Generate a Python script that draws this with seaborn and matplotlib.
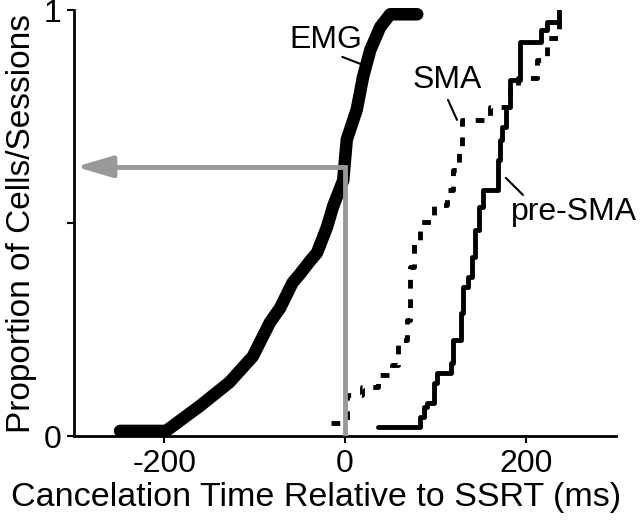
# recreate cancelation time cumulative distributions
import numpy as np
import pandas as pd
import matplotlib
matplotlib.use("Agg")
import matplotlib.pyplot as plt
import seaborn as sns

# EMG cumulative curve (ms, proportion)
emg_x = [-249, -198, -161, -128, -102, -83, -72, -58, -50, -39, -31, -20, -13, -2, 2, 13, 20, 28, 39, 50, 80]
emg_y = [0.012, 0.012, 0.07, 0.126, 0.187, 0.267, 0.30, 0.36, 0.38, 0.41, 0.43, 0.49, 0.54, 0.60, 0.696, 0.766, 0.843, 0.906, 0.96, 0.99, 0.99]

# SMA steps (x where the level starts, level)
sma_x = [-16, 2, 19, 37, 52, 59, 69, 72, 76, 83, 98, 113, 120, 126, 130, 161, 183, 191, 213, 224, 237]
sma_y = [0.03, 0.096, 0.115, 0.143, 0.167, 0.225, 0.272, 0.397, 0.453, 0.502, 0.542, 0.577, 0.624, 0.678,
         0.742, 0.772, 0.82, 0.84, 0.883, 0.935, 0.99]

# pre-SMA steps
presma_x = [37, 83, 87, 91, 98, 102, 117, 120, 128, 131, 136, 141, 144, 148, 153, 169, 172, 174, 178, 183,
            194, 217, 224, 237]
presma_y = [0.021, 0.045, 0.068, 0.077, 0.124, 0.148, 0.171, 0.225, 0.289, 0.35, 0.374, 0.42, 0.484, 0.538,
            0.577, 0.648, 0.695, 0.725, 0.772, 0.836, 0.925, 0.953, 0.972, 1.0]

# SSRT marker and EMG proportion at SSRT
ssrt = 0
emg_at_ssrt = 0.632

sns.set_theme(style="ticks")
plt.rcParams["font.family"] = ["Liberation Sans", "DejaVu Sans"]
plt.rcParams["text.color"] = "black"
plt.rcParams["axes.labelcolor"] = "black"

fig = plt.figure(figsize=(6.4, 5.21), dpi=100)
ax = fig.add_axes([0.1156, 0.1631, 0.8469, 0.8177])

gray = "#999999"

# EMG thick curve
sns.lineplot(x=emg_x, y=emg_y, sort=False, estimator=None, color="black", linewidth=9,
             solid_capstyle="round", solid_joinstyle="round", clip_on=False, ax=ax)

# SMA dashed steps
sns.lineplot(x=sma_x, y=sma_y, sort=False, estimator=None, color="black", linewidth=3.5,
             drawstyle="steps-post", linestyle=(0, (1.8, 2.2)), ax=ax)

# pre-SMA solid steps
sns.lineplot(x=presma_x, y=presma_y, sort=False, estimator=None, color="black", linewidth=3.5,
             drawstyle="steps-post", ax=ax)

# gray arrow from SSRT
ax.plot([ssrt, ssrt, -280], [0, emg_at_ssrt, emg_at_ssrt], color=gray, linewidth=3.5,
        solid_joinstyle="miter", zorder=5)
ax.annotate("", xy=(-298, emg_at_ssrt), xytext=(-260, emg_at_ssrt),
            arrowprops=dict(arrowstyle="-|>,head_length=2.2,head_width=0.65", color=gray,
                            linewidth=3.5, shrinkA=0, shrinkB=0, mutation_scale=10), zorder=5)

# labels with leader lines
fs = 23
ax.text(-21, 0.93, "EMG", fontsize=fs, ha="center", va="center")
ax.plot([-3, 20], [0.89, 0.871], color="black", linewidth=1.5)
ax.text(113, 0.836, "SMA", fontsize=fs, ha="center", va="center")
ax.plot([114, 124], [0.789, 0.742], color="black", linewidth=1.5)
ax.text(253, 0.526, "pre-SMA", fontsize=fs, ha="center", va="center")
ax.plot([178, 197], [0.606, 0.566], color="black", linewidth=1.5)

ax.set_xlim(-300, 300)
ax.set_ylim(0, 1)
ax.set_xticks([-200, 0, 200])
ax.set_xticklabels(["-200", "0", "200"])
ax.set_yticks([0, 0.5, 1])
ax.set_yticklabels(["0", "", "1"])
ax.tick_params(direction="out", length=5, width=1.5, labelsize=fs, pad=4, colors="black")
for side in ["left", "bottom"]:
    ax.spines[side].set_linewidth(2)
    ax.spines[side].set_color("black")
sns.despine(ax=ax)

ax.set_xlabel("Cancelation Time Relative to SSRT (ms)", fontsize=24.5)
ax.set_ylabel("Proportion of Cells/Sessions", fontsize=24)
ax.xaxis.set_label_coords(0.4465, -0.108)
ax.yaxis.set_label_coords(-0.068, 0.5)

fig.savefig("out.png", dpi=100)
